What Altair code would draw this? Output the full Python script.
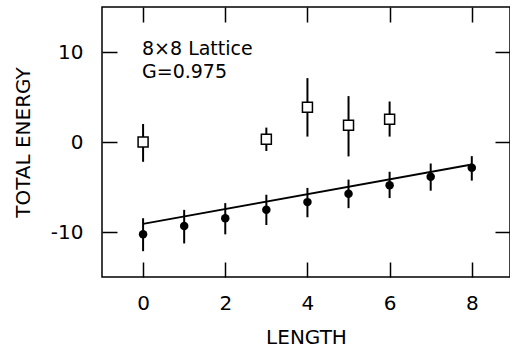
import altair as alt
import pandas as pd

# ---- data ----
circ_x = [0, 1, 2, 3, 4, 5, 6, 7, 8]
circ_y = [-10.26, -9.33, -8.47, -7.54, -6.68, -5.74, -4.81, -3.87, -2.87]
circ_lo = [-12.13, -11.27, -10.26, -9.22, -8.36, -7.35, -6.23, -5.41, -4.29]
circ_hi = [-8.47, -7.54, -6.79, -5.86, -5.10, -4.18, -3.31, -2.39, -1.57]

sq_x = [0, 3, 4, 5, 6]
sq_y = [0.0, 0.3, 3.85, 1.87, 2.54]
sq_lo = [-2.2, -1.0, 0.6, -1.6, 0.6]
sq_hi = [2.0, 1.6, 7.1, 5.1, 4.5]

fit_x = [0, 8]
fit_y = [-9.1, -2.5]

x_ticks = [0, 2, 4, 6, 8]
y_ticks = [-10, 0, 10]

ann_line1 = "8×8 Lattice"
ann_line2 = "G=0.975"

FONT = "DejaVu Sans"

circ = pd.DataFrame({"x": circ_x, "y": circ_y, "lo": circ_lo, "hi": circ_hi})
sq = pd.DataFrame({"x": sq_x, "y": sq_y, "lo": sq_lo, "hi": sq_hi})
fit = pd.DataFrame({"x": fit_x, "y": fit_y})

xs = alt.Scale(domain=[-1, 8.93], nice=False, zero=False)
ys = alt.Scale(domain=[-15, 15], nice=False, zero=False)

common_axis = dict(grid=False, domain=False, tickSize=15, tickWidth=1.5,
                   tickColor="black", offset=-15)

x_main = alt.Axis(values=x_ticks, orient="bottom", labelFont=FONT, labelFontSize=20,
                  labelColor="black", labelPadding=16, title="LENGTH", titleFont=FONT,
                  titleFontSize=20, titleFontWeight="normal", titleColor="black",
                  titlePadding=14, labelOverlap=False, **common_axis)
y_main = alt.Axis(values=y_ticks, orient="left", labelFont=FONT, labelFontSize=20,
                  labelColor="black", labelPadding=19, title="TOTAL ENERGY", titleFont=FONT,
                  titleFontSize=20, titleFontWeight="normal", titleColor="black",
                  titlePadding=17, labelOverlap=False,
                  labelExpr="replace(datum.label, '\u2212', '-')", **common_axis)
x_top = alt.Axis(values=x_ticks, orient="top", labels=False, **common_axis)
y_right = alt.Axis(values=y_ticks, orient="right", labels=False, **common_axis)

circ_bars = alt.Chart(circ).mark_rule(color="black", strokeWidth=2).encode(
    x=alt.X("x:Q", scale=xs, axis=None),
    y=alt.Y("lo:Q", scale=ys, axis=None),
    y2="hi:Q",
)
circ_pts = alt.Chart(circ).mark_point(shape="circle", filled=True, size=72,
                                      color="black", opacity=1).encode(
    x=alt.X("x:Q", scale=xs, axis=x_main),
    y=alt.Y("y:Q", scale=ys, axis=y_main),
)
sq_bars = alt.Chart(sq).mark_rule(color="black", strokeWidth=2).encode(
    x=alt.X("x:Q", scale=xs, axis=None),
    y=alt.Y("lo:Q", scale=ys, axis=None),
    y2="hi:Q",
)
sq_pts = alt.Chart(sq).mark_point(shape="square", filled=True, fill="white",
                                  stroke="black", strokeWidth=1.5, size=100,
                                  opacity=1).encode(
    x=alt.X("x:Q", scale=xs, axis=None),
    y=alt.Y("y:Q", scale=ys, axis=None),
)
fit_line = alt.Chart(fit).mark_line(color="black", strokeWidth=1.8).encode(
    x=alt.X("x:Q", scale=xs, axis=None),
    y=alt.Y("y:Q", scale=ys, axis=None),
)
tick_layer = alt.Chart(circ).mark_point(opacity=0).encode(
    x=alt.X("x:Q", scale=xs, axis=x_top, title=None),
    y=alt.Y("y:Q", scale=ys, axis=y_right, title=None),
)
t1 = alt.Chart(pd.DataFrame({"t": [ann_line1]})).mark_text(
    align="left", baseline="alphabetic", font=FONT, fontSize=19, color="black"
).encode(x=alt.value(40), y=alt.value(48), text="t:N")
t2 = alt.Chart(pd.DataFrame({"t": [ann_line2]})).mark_text(
    align="left", baseline="alphabetic", font=FONT, fontSize=19, color="black"
).encode(x=alt.value(40), y=alt.value(71), text="t:N")

chart = alt.layer(
    circ_pts, tick_layer, circ_bars, sq_bars, sq_pts, fit_line, t1, t2
).resolve_axis(x="independent", y="independent").properties(
    width=408, height=270,
    padding={"left": 102, "top": 7, "right": 0, "bottom": 72},
    autosize=alt.AutoSizeParams(type="none"),
    background="white",
).configure_view(stroke="black", strokeWidth=1.5)

chart.save("out.html", embed_options={"renderer": "svg", "actions": False})
